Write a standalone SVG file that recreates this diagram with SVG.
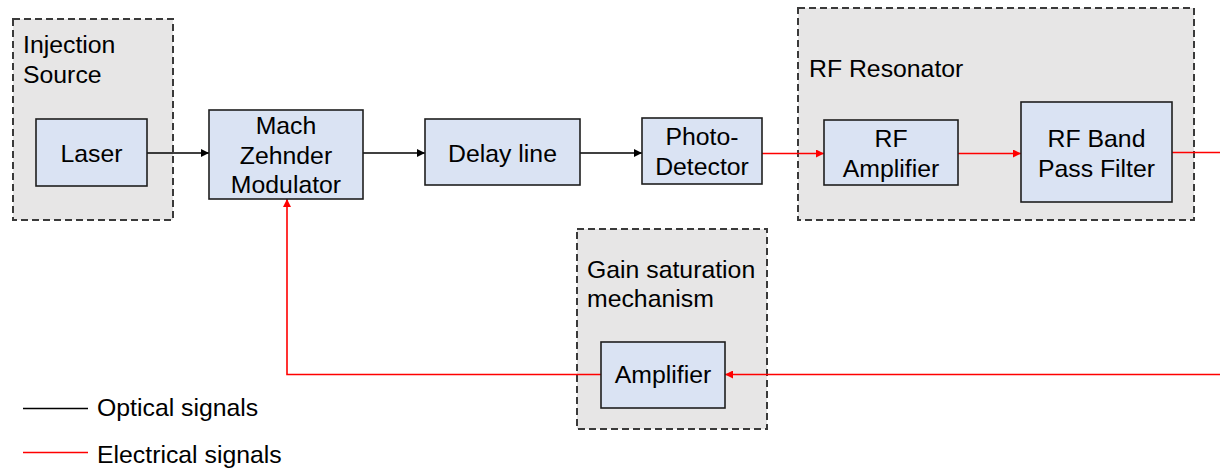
<svg xmlns="http://www.w3.org/2000/svg" width="1220" height="472" viewBox="0 0 1220 472">
  <defs>
    <marker id="arrow-black" viewBox="0 0 10 10" refX="10" refY="5" markerWidth="8" markerHeight="8" markerUnits="userSpaceOnUse" orient="auto">
      <path d="M0,0 L10,5 L0,10 z" fill="#000000"/>
    </marker>
    <marker id="arrow-red" viewBox="0 0 10 10" refX="10" refY="5" markerWidth="8" markerHeight="8" markerUnits="userSpaceOnUse" orient="auto">
      <path d="M0,0 L10,5 L0,10 z" fill="#ff0000"/>
    </marker>
  </defs>
  <style>
    text { font-family: "Liberation Sans", Arial, sans-serif; font-size: 24.8px; fill: #000000; }
    .mid { text-anchor: middle; }
    .group { fill: #e7e6e6; stroke: #3a3a3a; stroke-width: 2; stroke-dasharray: 7 4; }
    .block { fill: #dae3f3; stroke: #1e1e1e; stroke-width: 1.6; }
    .optical { fill: none; stroke: #000000; stroke-width: 1.6; }
    .electrical { fill: none; stroke: #ff0000; stroke-width: 1.6; }
  </style>

  <!-- dashed sub-system frames -->
  <g id="injection-source">
    <rect class="group" x="13" y="19" width="160" height="201"/>
    <text x="23" y="53">Injection</text>
    <text x="23" y="83">Source</text>
  </g>
  <g id="rf-resonator">
    <rect class="group" x="798" y="8" width="396" height="212"/>
    <text x="809" y="77">RF Resonator</text>
  </g>
  <g id="gain-saturation">
    <rect class="group" x="577" y="229" width="190" height="200"/>
    <text x="587" y="278">Gain saturation</text>
    <text x="587" y="307">mechanism</text>
  </g>

  <!-- signal paths -->
  <g id="connectors">
    <line class="optical" x1="147" y1="153" x2="209" y2="153" marker-end="url(#arrow-black)"/>
    <line class="optical" x1="363" y1="153" x2="425" y2="153" marker-end="url(#arrow-black)"/>
    <line class="optical" x1="580" y1="153" x2="642" y2="153" marker-end="url(#arrow-black)"/>
    <line class="electrical" x1="762" y1="153.5" x2="824" y2="153.5" marker-end="url(#arrow-red)"/>
    <line class="electrical" x1="958" y1="153.5" x2="1021" y2="153.5" marker-end="url(#arrow-red)"/>
    <line class="electrical" x1="1172" y1="152.5" x2="1220" y2="152.5"/>
    <line class="electrical" x1="1220" y1="374.5" x2="725" y2="374.5" marker-end="url(#arrow-red)"/>
    <polyline class="electrical" points="601,374.5 287,374.5 287,199" marker-end="url(#arrow-red)"/>
  </g>

  <!-- blocks -->
  <g id="laser">
    <rect class="block" x="36" y="119" width="111" height="67"/>
    <text class="mid" x="91.5" y="161.5">Laser</text>
  </g>
  <g id="mach-zehnder-modulator">
    <rect class="block" x="209" y="110" width="154" height="89"/>
    <text class="mid" x="286" y="134">Mach</text>
    <text class="mid" x="286" y="164">Zehnder</text>
    <text class="mid" x="286" y="193">Modulator</text>
  </g>
  <g id="delay-line">
    <rect class="block" x="425" y="119" width="155" height="66"/>
    <text class="mid" x="502.5" y="161.5">Delay line</text>
  </g>
  <g id="photo-detector">
    <rect class="block" x="642" y="118" width="120" height="66"/>
    <text class="mid" x="702" y="145">Photo-</text>
    <text class="mid" x="702" y="175">Detector</text>
  </g>
  <g id="rf-amplifier">
    <rect class="block" x="824" y="120" width="134" height="65"/>
    <text class="mid" x="891" y="147">RF</text>
    <text class="mid" x="891" y="177">Amplifier</text>
  </g>
  <g id="rf-band-pass-filter">
    <rect class="block" x="1021" y="102" width="151" height="100"/>
    <text class="mid" x="1096.5" y="147">RF Band</text>
    <text class="mid" x="1096.5" y="177">Pass Filter</text>
  </g>
  <g id="amplifier">
    <rect class="block" x="601" y="342" width="124" height="66"/>
    <text class="mid" x="663" y="383">Amplifier</text>
  </g>

  <!-- legend -->
  <g id="legend">
    <line x1="23" y1="408.5" x2="88" y2="408.5" stroke="#000000" stroke-width="1.6"/>
    <text x="97" y="416">Optical signals</text>
    <line x1="23" y1="452.5" x2="88" y2="452.5" stroke="#ff0000" stroke-width="1.6"/>
    <text x="97" y="463">Electrical signals</text>
  </g>
</svg>
